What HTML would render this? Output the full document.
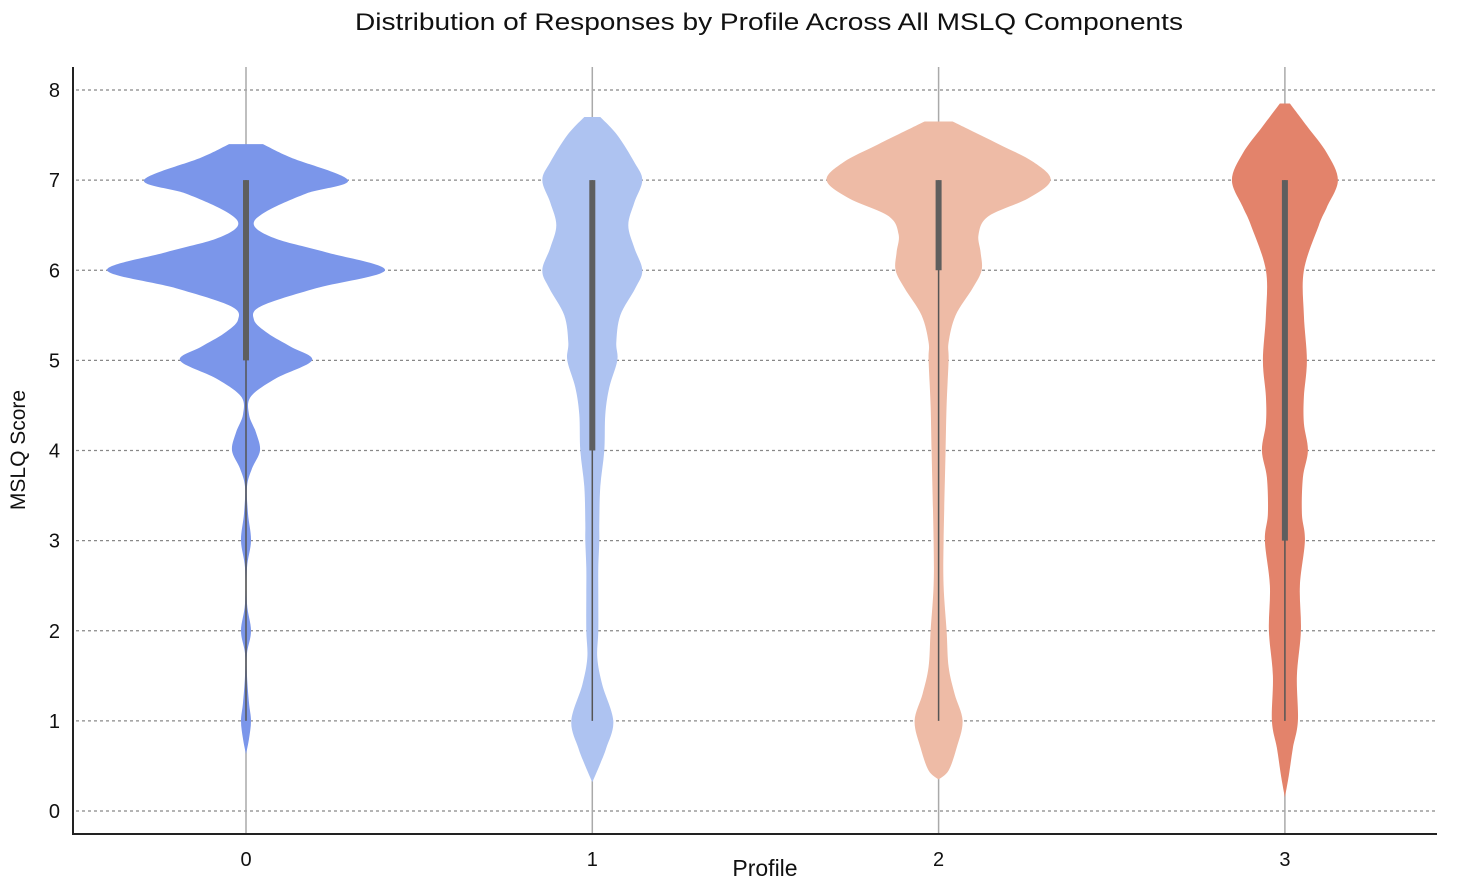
<!DOCTYPE html>
<html><head><meta charset="utf-8"><style>
html,body{margin:0;padding:0;background:#fff}
svg{display:block;font-family:"Liberation Sans",sans-serif}
</style></head><body>
<svg id="chart" width="1477" height="886" viewBox="0 0 1477 886">
<text x="769" y="30" text-anchor="middle" font-size="24" textLength="828" lengthAdjust="spacingAndGlyphs" fill="#111">Distribution of Responses by Profile Across All MSLQ Components</text>
<g id="grid"></g>
<g id="violins"></g>
<line x1="73" y1="67" x2="73" y2="835" stroke="#222" stroke-width="2"/>
<line x1="72" y1="834" x2="1437" y2="834" stroke="#222" stroke-width="2"/>
<g id="yticks"></g>
<g id="xticks"></g>
<text x="25" y="450" transform="rotate(-90 25 450)" text-anchor="middle" font-size="21" fill="#111">MSLQ Score</text>
<text x="765" y="876" text-anchor="middle" font-size="23" fill="#111">Profile</text>
</svg>
<script>
const categories = ["0","1","2","3"];
const yTicks = [0,1,2,3,4,5,6,7,8];
const colors = ["#7b96ea","#aec3f1","#eebba6","#e3836b"];
const q1 = [5,4,6,3];
const q3 = [7,7,7,7];
const whiskLo = [1,1,1,1];
const whiskHi = [7,7,7,7];
// density profiles: score levels and half-widths (density units)
const lv0 = [7.4,7.25,7.0,6.85,6.65,6.5,6.35,6.2,6.0,5.8,5.6,5.45,5.3,5.15,5.0,4.8,4.6,4.4,4.2,4.0,3.8,3.6,3.3,3.0,2.7,2.3,2.0,1.75,1.5,1.2,1.0,0.8,0.63];
const d0  = [17,45,102,60,20,8,30,80,139,70,15,8,22,45,66,30,5,3,10,14,6,1,2,5,1,1,5,1,1,3,5,3,0];
const lv1 = [7.7,7.5,7.2,7.0,6.75,6.5,6.25,6.0,5.8,5.5,5.2,5.0,4.7,4.4,4.0,3.6,3.2,3.0,2.7,2.4,2.0,1.7,1.4,1.0,0.7,0.5,0.32];
const d1  = [8,25,42,50,42,36,42,50,43,28,24,25,17,13,12,8,7,7,6,6,6,5,10,21,14,7,0];
const lv2 = [7.65,7.4,7.2,7.0,6.8,6.6,6.4,6.2,6.0,5.8,5.5,5.2,5.0,4.5,4.0,3.0,2.5,2.0,1.6,1.3,1.0,0.7,0.45,0.35];
const d2  = [14,60,95,112,90,50,40,42,43,34,17,10,10,8,7,5,5,8,10,16,24,18,10,0];
const lv3 = [7.85,7.6,7.3,7.0,6.7,6.5,6.0,5.5,5.0,4.6,4.3,4.0,3.7,3.3,3.0,2.5,2.0,1.5,1.0,0.7,0.4,0.15];
const d3  = [5,22,42,53,42,34,19,19,22,19,19,23,18,17,20,15,16,12,13,8,4,0];
const levels = [lv0,lv1,lv2,lv3];
const dens = [d0,d1,d2,d3];

const NS="http://www.w3.org/2000/svg";
const y = v => 811 - v*90.125;
const x = i => 246 + i*346.3;
function mk(t,a,p){const e=document.createElementNS(NS,t);for(const k in a)e.setAttribute(k,a[k]);p.appendChild(e);return e;}
const grid=document.getElementById('grid');
yTicks.forEach(t=>{
  const l=mk('line',{x1:76,x2:1437,y1:y(t),y2:y(t),stroke:'#888','stroke-width':1.2,'stroke-dasharray':'3,3'},grid);
  
  
  const tx=mk('text',{x:60,y:y(t)+7,'text-anchor':'end','font-size':20,fill:'#111'},document.getElementById('yticks'));
  tx.textContent=t;
  
  
});
const vg=document.getElementById('violins');
categories.forEach((c,i)=>{
  const cx=x(i);
  const vl=mk('line',{x1:cx,x2:cx,y1:67,y2:834,stroke:'#aaa','stroke-width':1.5},vg);
  
  
  const L=levels[i],D=dens[i];
  const pts=L.map((v,k)=>[D[k],y(v)]);
  function side(arr,sign){
    let s='';
    for(let k=0;k<arr.length-1;k++){
      const p0=arr[Math.max(0,k-1)],p1=arr[k],p2=arr[k+1],p3=arr[Math.min(arr.length-1,k+2)];
      const c1=[p1[0]+(p2[0]-p0[0])/6,p1[1]+(p2[1]-p0[1])/6];
      const c2=[p2[0]-(p3[0]-p1[0])/6,p2[1]-(p3[1]-p1[1])/6];
      s+=` C${cx+sign*c1[0]},${c1[1]} ${cx+sign*c2[0]},${c2[1]} ${cx+sign*p2[0]},${p2[1]}`;
    }
    return s;
  }
  let d=`M${cx-pts[0][0]},${pts[0][1]} L${cx+pts[0][0]},${pts[0][1]}`+side(pts,1);
  const rev=pts.slice().reverse();
  d+=` L${cx-rev[0][0]},${rev[0][1]}`+side(rev,-1)+'Z';
  const p=mk('path',{d:d,fill:colors[i]},vg);
  
  
  const w=mk('line',{x1:cx,x2:cx,y1:y(whiskLo[i]),y2:y(whiskHi[i]),stroke:'#555','stroke-width':1.5},vg);
  
  
  const b=mk('rect',{x:cx-3,y:y(q3[i]),width:6,height:y(q1[i])-y(q3[i]),fill:'#5e5e5e'},vg);
  
  
  const tx=mk('text',{x:cx,y:866,'text-anchor':'middle','font-size':20,fill:'#111'},document.getElementById('xticks'));
  tx.textContent=c;
  
  
});
</script>
</body></html>
